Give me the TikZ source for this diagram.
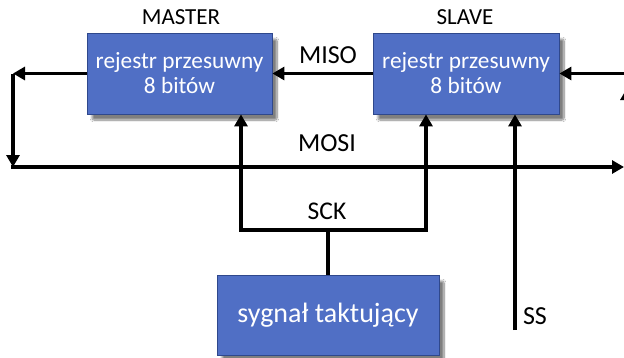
\documentclass[tikz,border=0pt]{standalone}
\usepackage{fontspec}
\setmainfont{Carlito}
\usetikzlibrary{arrows.meta,shadows.blur}
\definecolor{boxblue}{RGB}{80,111,197}
\definecolor{boxedge}{RGB}{47,72,140}
\tikzset{
  regbox/.style={rectangle, fill=boxblue, draw=boxedge, line width=0.8pt,
    text=white, align=center, inner sep=0pt,
    blur shadow={shadow xshift=5pt, shadow yshift=-6pt, shadow blur steps=10,
      shadow blur extra rounding=2pt, shadow opacity=50}},
  lbl/.style={inner sep=0pt, text=black},
  wire/.style={line width=3.6pt, draw=black},
  arr/.style={wire, -{Triangle[length=12pt,width=13pt]}},
}
\begin{document}
\begin{tikzpicture}[x=1pt,y=-1pt]
\useasboundingbox[fill=white] (0,0) rectangle (624,357);

% shift-register blocks and clock source
\node[regbox, minimum width=185pt, minimum height=81pt,
  font=\fontsize{23.3}{25}\selectfont] (master) at (179.5,73.5)
  {rejestr przesuwny\\8 bitów};
\node[regbox, minimum width=186pt, minimum height=81pt,
  font=\fontsize{23.3}{25}\selectfont] (slave) at (466,73.5)
  {rejestr przesuwny\\8 bitów};
\node[regbox, minimum width=222pt, minimum height=80pt,
  font=\fontsize{28}{30}\selectfont] (clk) at (328,315)
  {sygnał taktujący};

% labels
\node[lbl, font=\fontsize{23}{26}\selectfont] (tmaster) at (181,17) {MASTER};
\node[lbl, font=\fontsize{23}{26}\selectfont] (tslave) at (465,17) {SLAVE};
\node[lbl, font=\fontsize{26}{30}\selectfont] (tmiso) at (328,55) {MISO};
\node[lbl, font=\fontsize{26}{30}\selectfont] (tmosi) at (327,143) {MOSI};
\node[lbl, font=\fontsize{25.5}{30}\selectfont] (tsck) at (327,211) {SCK};
\node[lbl, font=\fontsize{26}{30}\selectfont] (tss) at (535,316) {SS};

% wire end points
\coordinate (lcorner) at (13,73.5);
\coordinate (mosiL) at (11.2,167);
\coordinate (mosiR) at (624,167);
\coordinate (lmosi) at (13,167);
\coordinate (rin) at (640,73.5);
\coordinate (sckL) at (241,230);
\coordinate (sckR) at (426,230);
\coordinate (ssB) at (515,330);
\coordinate (edgeB) at (627,140);
\coordinate (edgeT) at (627,88);

% MISO: slave -> master
\draw[arr] (slave.west) -- (master.east);
% master output loops down to the MOSI line
\draw[arr] (master.west) -- (lcorner);
\draw[arr] (lcorner) -- (lmosi);
% MOSI bus
\draw[arr] (mosiL) -- (mosiR);
% slave serial input from the right
\draw[arr] (rin) -- (slave.east);
\draw[arr] (edgeB) -- (edgeT);
% SCK distribution
\draw[wire, line join=miter, {Triangle[length=12pt,width=13pt]}-{Triangle[length=12pt,width=13pt]}]
  (master.south -| sckL) -- (sckL) -- (sckR) -- (slave.south -| sckR);
\draw[wire] (clk.north) -- (clk.north |- sckL);
% slave select
\draw[arr] (ssB) -- (ssB |- slave.south);
\end{tikzpicture}
\end{document}
